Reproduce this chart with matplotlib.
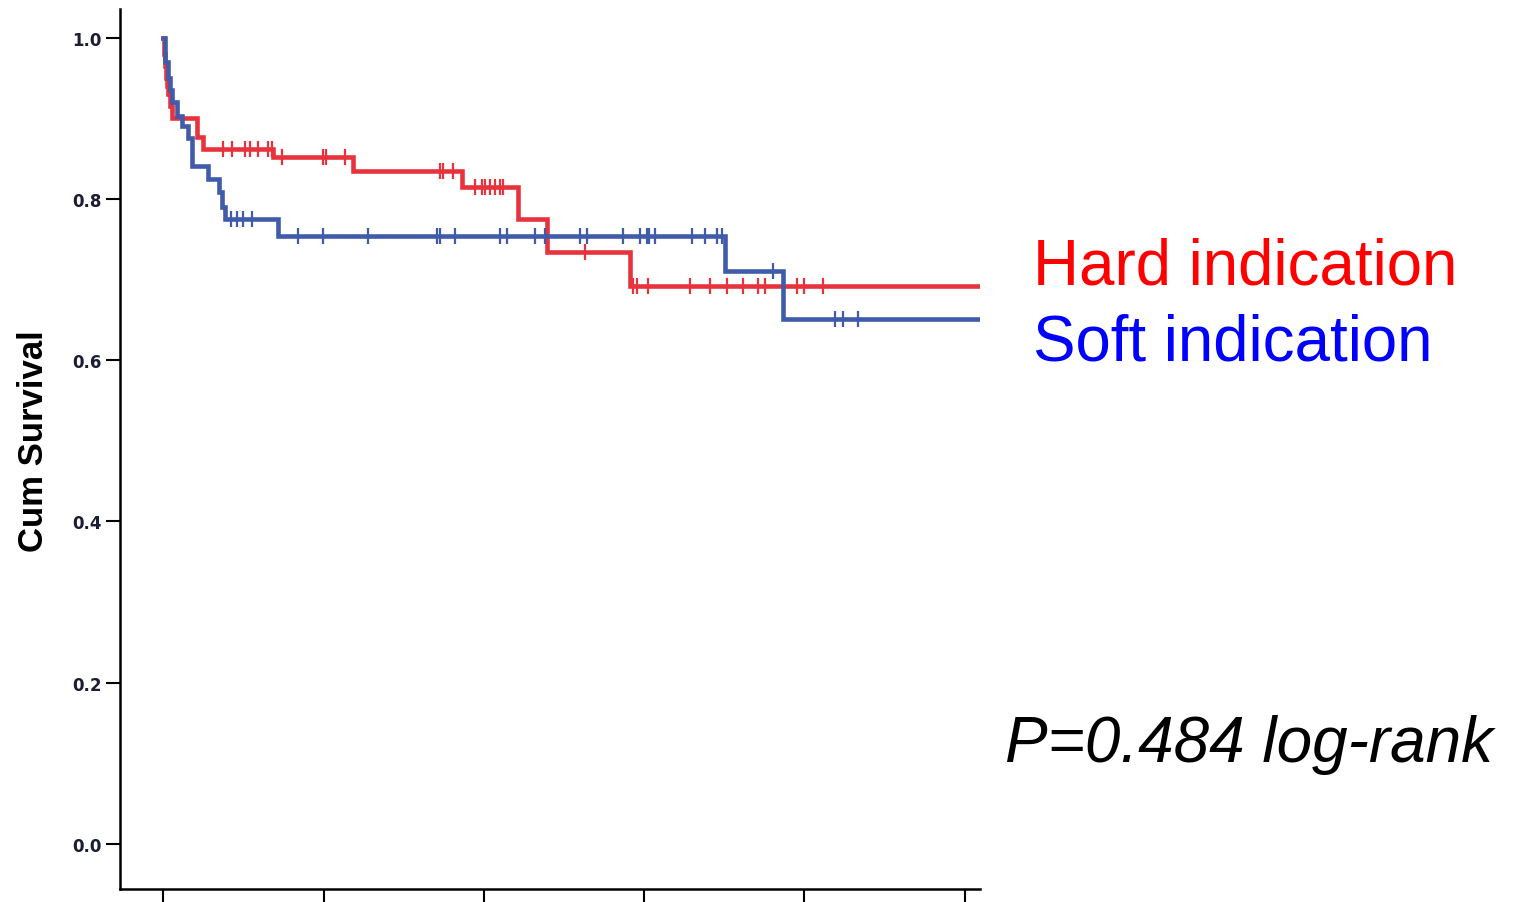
import numpy as np
import matplotlib
matplotlib.use("Agg")
import matplotlib.pyplot as plt

# Kaplan-Meier step data (time, survival after step)
hard_t = [0, 0.12, 0.25, 0.37, 0.5, 0.62, 0.87, 1.12, 4.24, 5.0, 13.7, 23.7, 37.3, 44.3, 47.9, 58.2]
hard_s = [1.0, 0.98, 0.965, 0.95, 0.94, 0.93, 0.915, 0.90, 0.877, 0.862, 0.852, 0.834, 0.815, 0.775, 0.734, 0.692]
hard_cens = [7.5, 8.6, 10.2, 10.8, 11.8, 13.0, 13.6, 14.8, 19.9, 20.3, 22.7, 34.5, 34.9, 36.2,
             38.9, 39.8, 40.1, 40.8, 41.4, 42.0, 42.4, 52.6, 58.6, 59.1, 60.5, 65.7, 68.2,
             70.3, 72.3, 74.2, 75.1, 79.1, 80.0, 82.3]

soft_t = [0, 0.25, 0.62, 0.87, 1.12, 1.75, 2.37, 3.12, 3.6, 5.6, 7.0, 7.36, 7.73, 14.3, 70.1, 77.3]
soft_s = [1.0, 0.97, 0.95, 0.935, 0.92, 0.903, 0.89, 0.875, 0.841, 0.825, 0.809, 0.79, 0.775, 0.754, 0.711, 0.651]
soft_cens = [8.4, 9.2, 10.0, 11.1, 16.8, 19.9, 25.6, 34.2, 34.5, 36.4, 42.0, 42.9, 46.4, 47.6,
             52.0, 52.9, 57.4, 59.5, 60.3, 60.6, 61.3, 66.0, 67.6, 69.1, 69.7, 76.1,
             83.8, 84.8, 86.7]

t_end = 101.9
x_ticks = [0, 20, 40, 60, 80, 100]
y_ticks = [0.0, 0.2, 0.4, 0.6, 0.8, 1.0]

red = '#E8323C'
blue = '#3F5BA9'

fig = plt.figure(figsize=(15.16, 9.03), dpi=100)
ax = fig.add_axes([0.0792, 0.0144, 0.5672, 0.975])


def km(ax, t, s, cens, col):
    tt = list(t) + [t_end]
    ss = list(s) + [s[-1]]
    ax.step(tt, ss, where='post', color=col, lw=3.3, solid_joinstyle='miter')
    idx = np.searchsorted(t, cens, side='right') - 1
    ax.plot(cens, np.array(s)[idx], ls='none', marker='|', ms=12, mew=1.6, color=col)


km(ax, hard_t, hard_s, hard_cens, red)
km(ax, soft_t, soft_s, soft_cens, blue)

ax.set_xlim(-5.4, t_end)
ax.set_ylim(-0.056, 1.036)
ax.set_xticks(x_ticks)
ax.set_xticklabels([])
ax.set_yticks(y_ticks)
ax.set_yticklabels(['%.1f' % v for v in y_ticks], fontsize=12, fontweight='bold', color='#1c1c33')
ax.tick_params(axis='y', length=10, width=1.5, pad=3)
ax.tick_params(axis='x', length=14, width=1.5)
for sp in ['top', 'right']:
    ax.spines[sp].set_visible(False)
for sp in ['left', 'bottom']:
    ax.spines[sp].set_linewidth(1.8)
ax.set_ylabel('Cum Survival', fontsize=25, fontweight='bold', family='Liberation Sans')
ax.yaxis.set_label_coords(-0.081, 0.51)

fig.text(0.6814, 0.6844, 'Hard indication', color='#FF0000', fontsize=45.8,
         family='Liberation Sans', va='baseline')
fig.text(0.6814, 0.6013, 'Soft indication', color='#0000FF', fontsize=45.8,
         family='Liberation Sans', va='baseline')
fig.text(0.663, 0.156, 'P=0.484 log-rank', color='black', fontsize=46, style='italic',
         family='Liberation Sans', va='baseline')

fig.savefig('out.png', dpi=100)
